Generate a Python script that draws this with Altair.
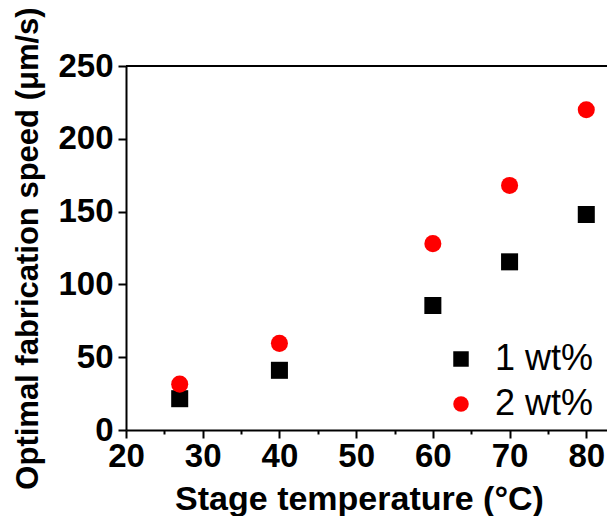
import altair as alt
import pandas as pd

temps = [27, 40, 60, 70, 80]
speed_1wt = [21.5, 41, 85.5, 115.5, 148]
speed_2wt = [31.5, 59.5, 128, 168, 220]
series = ["1 wt%", "2 wt%"]
x_ticks = [20, 25, 30, 35, 40, 45, 50, 55, 60, 65, 70, 75, 80]
y_ticks = [0, 25, 50, 75, 100, 125, 150, 175, 200, 225, 250]

rows = []
for t, a, b in zip(temps, speed_1wt, speed_2wt):
    rows.append({"T": t, "v": a, "s": series[0]})
    rows.append({"T": t, "v": b, "s": series[1]})
df = pd.DataFrame(rows)

FONT = "Liberation Sans"

x = alt.X("T:Q", scale=alt.Scale(domain=[20, 82.7], nice=False, zero=False),
          axis=alt.Axis(values=x_ticks, title="Stage temperature (°C)",
                        labelExpr="datum.value % 10 === 0 ? datum.label : ''",
                        tickSize={"condition": {"test": "datum.value % 10 !== 0", "value": 4}, "value": 8},
                        labelFontSize=33, labelFontWeight="bold", labelFont=FONT,
                        labelPadding=2, labelColor="black",
                        titleFontSize=34, titleFontWeight="bold", titleFont=FONT,
                        titlePadding=9, titleColor="black", titleX=233,
                        domainColor="black", domainWidth=2, tickColor="black",
                        tickWidth=2, grid=False, labelFlush=False, labelOverlap=False))
y = alt.Y("v:Q", scale=alt.Scale(domain=[0, 250], nice=False),
          axis=alt.Axis(values=y_ticks, title="Optimal fabrication speed (μm/s)",
                        labelExpr="datum.value % 50 === 0 ? datum.label : ''",
                        tickSize={"condition": {"test": "datum.value % 50 !== 0", "value": 4}, "value": 8},
                        labelFontSize=33, labelFontWeight="bold", labelFont=FONT,
                        labelPadding=5, labelColor="black",
                        titleFontSize=31, titleFontWeight="bold", titleFont=FONT,
                        titlePadding=13, titleColor="black",
                        domainColor="black", domainWidth=2, tickColor="black",
                        tickWidth=2, grid=False, labelFlush=False, labelOverlap=False))

leg = dict(title=None, orient="none", legendX=317, legendY=275,
           labelFontSize=36, labelFont=FONT, labelColor="black",
           symbolSize=240, rowPadding=9, labelOffset=16, symbolStrokeWidth=0)

points = alt.Chart(df).mark_point(filled=True, opacity=1, size=290).encode(
    x=x, y=y,
    shape=alt.Shape("s:N", scale=alt.Scale(domain=series, range=["square", "circle"]),
                    legend=alt.Legend(**leg)),
    color=alt.Color("s:N", scale=alt.Scale(domain=series, range=["black", "#ff0000"]),
                    legend=alt.Legend(**leg)),
)

top = alt.Chart(pd.DataFrame({"v": [250]})).mark_rule(color="black", strokeWidth=2).encode(
    y=alt.Y("v:Q"))

chart = alt.layer(points, top).properties(
    width=481, height=364,
    padding={"left": 118, "top": 58, "right": 0, "bottom": 86},
    autosize=alt.AutoSizeParams(type="none"),
).configure_view(stroke=None).configure(background="white")

chart.save("out.html", embed_options={"renderer": "svg", "actions": False})
